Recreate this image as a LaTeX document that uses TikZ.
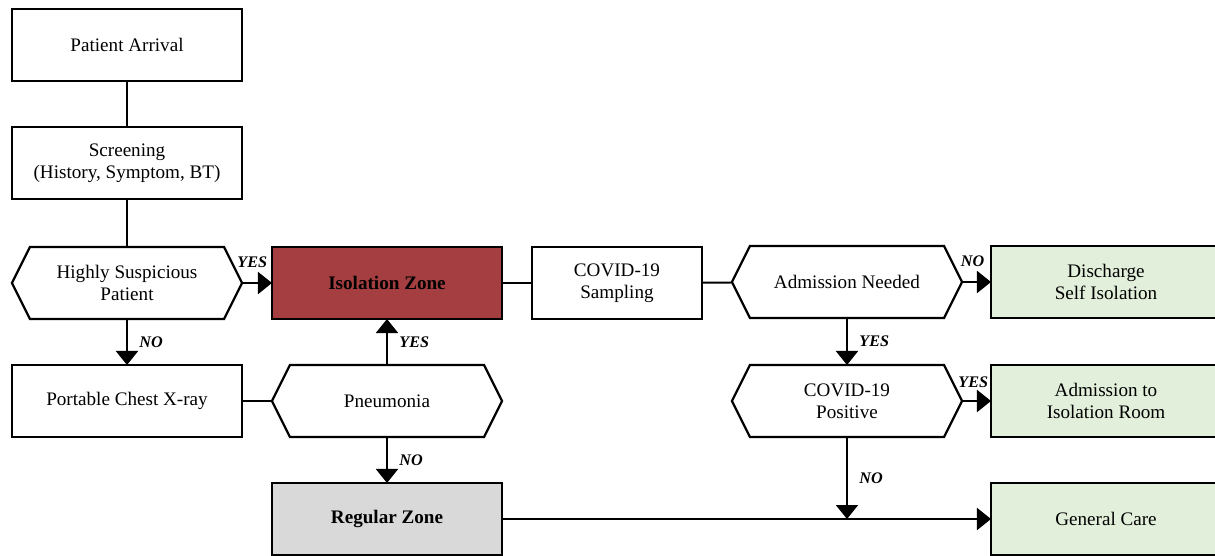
\documentclass[tikz,border=0pt]{standalone}
\usepackage{fontspec}
\setmainfont{Liberation Serif}
\usetikzlibrary{arrows.meta}

\definecolor{isored}{RGB}{165,62,64}
\definecolor{zonegray}{RGB}{217,217,217}
\definecolor{caregreen}{RGB}{226,239,218}

\begin{document}
\begin{tikzpicture}[x=0.025cm, y=-0.025cm,
            font=\fontsize{13.6}{15.5}\selectfont,
            box/.style={draw, line width=1.6pt, minimum width=5.75cm, minimum height=1.8cm,
                align=center, inner sep=2pt, outer sep=0pt},
            decision/.style={minimum width=5.75cm, minimum height=1.8cm, align=center, outer sep=0pt},
            zone/.style={box, font=\fontsize{13.6}{15.5}\selectfont\bfseries},
            care/.style={box, fill=caregreen},
            link/.style={line width=1.4pt},
            flow/.style={link, -{Triangle[length=0.35cm, width=0.55cm]}},
            answer/.style={font=\fontsize{11.5}{13}\selectfont\bfseries\itshape, inner sep=1pt}]

            \useasboundingbox (0,0) rectangle (1215,555);

            % Screening column
            \node[box] (arrival) at (127,45) {Patient Arrival};
            \node[box] (screen) at (127,163) {Screening\\(History, Symptom, BT)};
            \node[decision] (hsp) at (127,283) {Highly Suspicious\\Patient};
            \node[box] (xray) at (127,401) {Portable Chest X-ray};

            % Zones
            \node[zone, fill=isored] (iso) at (387,283) {Isolation Zone};
            \node[decision] (pneu) at (387,401) {Pneumonia};
            \node[zone, fill=zonegray] (reg) at (387,519) {Regular Zone};

            % Testing and outcomes
            \node[box, minimum width=4.25cm] (samp) at (617,283) {COVID-19\\Sampling};
            \node[decision] (need) at (847,282) {Admission Needed};
            \node[decision] (pos) at (847,401) {COVID-19\\Positive};
            \node[care] (disc) at (1106,282) {Discharge\\Self Isolation};
            \node[care] (adm) at (1106,401) {Admission to\\Isolation Room};
            \node[care] (gen) at (1106,519) {General Care};

            % Hexagon outlines for decisions
            \foreach \d in {hsp, pneu, need, pos}
                \draw[line width=1.6pt, line join=miter] ([xshift=0.45cm]\d.north west)
                    -- ([xshift=-0.45cm]\d.north east) -- (\d.east)
                    -- ([xshift=-0.45cm]\d.south east) -- ([xshift=0.45cm]\d.south west)
                    -- (\d.west) -- cycle;

            \coordinate (join) at (pos.south |- reg.east);

            % Connectors
            \draw[link] (arrival) -- (screen);
            \draw[link] (screen) -- (hsp);
            \draw[flow] (hsp) -- node[answer, above=0.32cm, xshift=-0.12cm] {YES} (iso);
            \draw[flow] (hsp) -- node[answer, right=0.25cm] {NO} (xray);
            \draw[link] (xray) -- (pneu);
            \draw[flow] (pneu) -- node[answer, right=0.25cm] {YES} (iso);
            \draw[flow] (pneu) -- node[answer, right=0.25cm] {NO} (reg);
            \draw[link] (iso) -- (samp);
            \draw[link] (samp) -- (need);
            \draw[flow] (need) -- node[answer, above=0.32cm, xshift=-0.1cm] {NO} (disc);
            \draw[flow] (need) -- node[answer, right=0.25cm] {YES} (pos);
            \draw[flow] (pos) -- node[answer, above=0.27cm, xshift=-0.08cm] {YES} (adm);
            \draw[flow] (pos) -- node[answer, right=0.25cm] {NO} (join);
            \draw[flow] (reg) -- (gen);
        \end{tikzpicture}
\end{document}
